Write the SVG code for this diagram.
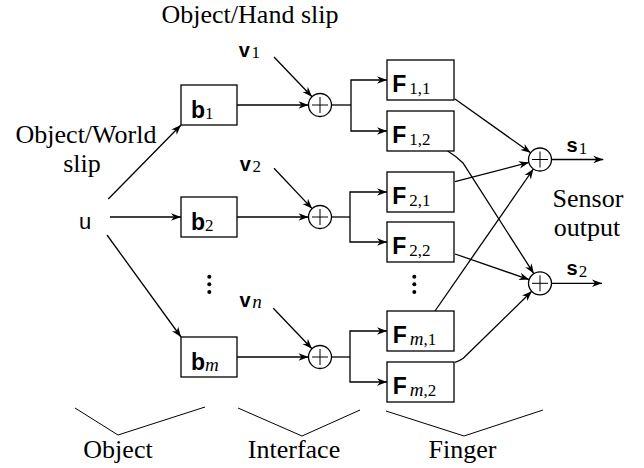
<svg xmlns="http://www.w3.org/2000/svg" width="644" height="468" viewBox="0 0 644 468">
<style>
.lbl{font-family:"Liberation Serif","Times New Roman",serif;font-size:26px;fill:#000}
.sb{font-family:"Liberation Sans",Arial,sans-serif;font-weight:bold;font-size:23px;fill:#000}
.sv{font-family:"Liberation Sans",Arial,sans-serif;font-weight:bold;font-size:20px;fill:#000}
.su{font-family:"Liberation Sans",Arial,sans-serif;font-size:22px;fill:#000}
.sub{font-family:"Liberation Serif","Times New Roman",serif;font-weight:normal;font-size:17px}
.it{font-style:italic;font-size:19px}
.box{fill:#fff;stroke:#000;stroke-width:1.3}
.sum{fill:#fff;stroke:#000;stroke-width:1.3}
.plus{stroke:#000;stroke-width:1;fill:none}
.c{fill:none;stroke:#000;stroke-width:1.3}
.ar{marker-end:url(#ah)}
.br{fill:none;stroke:#000;stroke-width:1}
</style>
<defs>
<marker id="ah" viewBox="-11 -5 12 10" refX="0" refY="0" markerWidth="12" markerHeight="10" markerUnits="userSpaceOnUse" orient="auto">
<path d="M0,0 L-10,-3.8 L-7,0 L-10,3.8 Z" fill="#000"/>
</marker>
</defs>

<g id="labels">
<text class="lbl" x="250" y="23" text-anchor="middle">Object/Hand slip</text>
<text class="lbl" x="86" y="142.5" text-anchor="middle">Object/World</text>
<text class="lbl" x="82" y="171.5" text-anchor="middle">slip</text>
<text class="lbl" x="588" y="206.5" text-anchor="middle">Sensor</text>
<text class="lbl" x="587" y="235.5" text-anchor="middle">output</text>
<text class="lbl" x="118" y="458" text-anchor="middle">Object</text>
<text class="lbl" x="294" y="458" text-anchor="middle">Interface</text>
<text class="lbl" x="462.5" y="458" text-anchor="middle">Finger</text>
</g>

<g id="braces">
<polyline class="br" points="75,408 118,435 205,407"/>
<polyline class="br" points="238,408 302,436 360,410"/>
<polyline class="br" points="386,411 464,436 543,410"/>
</g>

<g id="connectors">
<line class="c ar" x1="108.3" y1="199" x2="181" y2="125"/>
<line class="c ar" x1="110" y1="217" x2="181" y2="217"/>
<line class="c ar" x1="107" y1="235" x2="181" y2="337"/>

<line class="c ar" x1="237" y1="105" x2="308.5" y2="105"/>
<line class="c ar" x1="237" y1="217" x2="308.5" y2="217"/>
<line class="c ar" x1="237" y1="357" x2="308.5" y2="357"/>

<line class="c ar" x1="274" y1="57" x2="312" y2="96.7"/>
<line class="c ar" x1="274" y1="168.3" x2="312.1" y2="208.6"/>
<line class="c ar" x1="273.3" y1="308.3" x2="312" y2="348.7"/>

<polyline class="c" points="331.5,105 351,105"/>
<polyline class="c ar" points="351,105 351,80 387,80"/>
<polyline class="c ar" points="351,105 351,131 387,131"/>
<polyline class="c" points="331.5,217 350,217"/>
<polyline class="c ar" points="350,217 350,192 387,192"/>
<polyline class="c ar" points="350,217 350,242 387,242"/>
<polyline class="c" points="331.5,357 350,357"/>
<polyline class="c ar" points="350,357 350,331 387,331"/>
<polyline class="c ar" points="350,357 350,382 387,382"/>

<line class="c ar" x1="455" y1="99" x2="530.6" y2="152.8"/>
<line class="c ar" x1="455" y1="181.7" x2="528.9" y2="162.4"/>
<line class="c ar" x1="435" y1="311" x2="533.4" y2="169"/>

<path class="c ar" d="M447.7,151 Q456,156 463.3,163.3 L533.8,273.6"/>
<line class="c ar" x1="455" y1="254" x2="529.1" y2="279.6"/>
<path class="c ar" d="M455,362.3 Q459.5,361 463.3,358.3 L531.8,291.3"/>

<line class="c ar" x1="551.5" y1="159.5" x2="603.3" y2="159.5"/>
<line class="c ar" x1="551.5" y1="283.3" x2="602" y2="283.3"/>
</g>

<g id="u"><text class="su" x="79" y="228.5">u</text></g>

<g id="b1"><rect class="box" x="181" y="85" width="56" height="40"/><text class="sb" x="191" y="117.5">b<tspan class="sub" dy="1">1</tspan></text></g>
<g id="b2"><rect class="box" x="181" y="197" width="56" height="40"/><text class="sb" x="191" y="229.5">b<tspan class="sub" dy="1">2</tspan></text></g>
<g id="bm"><rect class="box" x="181" y="337" width="56" height="40"/><text class="sb" x="191" y="369.5">b<tspan class="sub it" dy="1">m</tspan></text></g>

<g id="vdots1"><circle cx="209.3" cy="276.7" r="2"/><circle cx="209.3" cy="284.3" r="2"/><circle cx="209.3" cy="292" r="2"/></g>
<g id="vdots2"><circle cx="414.3" cy="276.7" r="2"/><circle cx="414.3" cy="284.3" r="2"/><circle cx="414.3" cy="292" r="2"/></g>

<g id="v1"><text class="sv" x="238.8" y="56.5">v<tspan class="sub" dx="1.5" dy="1.8">1</tspan></text></g>
<g id="v2"><text class="sv" x="239.8" y="170.5">v<tspan class="sub" dx="1.5" dy="1.8">2</tspan></text></g>
<g id="vn"><text class="sv" x="239.5" y="306.7">v<tspan class="sub it" dx="1.5" dy="1">n</tspan></text></g>

<g id="sum1r"><circle class="sum" cx="320" cy="105" r="11.5"/><path class="plus" d="M312,105 H328 M320,97 V113"/></g>
<g id="sum2r"><circle class="sum" cx="320" cy="217" r="11.5"/><path class="plus" d="M312,217 H328 M320,209 V225"/></g>
<g id="sumnr"><circle class="sum" cx="320" cy="357" r="11.5"/><path class="plus" d="M312,357 H328 M320,349 V365"/></g>

<g id="F11"><rect class="box" x="387" y="60" width="67" height="40"/><text class="sb" x="392.3" y="91.5">F<tspan class="sub" dx="3" dy="2">1,1</tspan></text></g>
<g id="F12"><rect class="box" x="387" y="111" width="67" height="40"/><text class="sb" x="392.3" y="142.5">F<tspan class="sub" dx="3" dy="2">1,2</tspan></text></g>
<g id="F21"><rect class="box" x="387" y="172" width="67" height="40"/><text class="sb" x="392.3" y="203.5">F<tspan class="sub" dx="3" dy="2">2,1</tspan></text></g>
<g id="F22"><rect class="box" x="387" y="222" width="67" height="40"/><text class="sb" x="392.3" y="253.5">F<tspan class="sub" dx="3" dy="2">2,2</tspan></text></g>
<g id="Fm1"><rect class="box" x="387" y="311" width="67" height="40"/><text class="sb" x="392.8" y="342.5">F<tspan class="sub" dx="3" dy="2"><tspan class="it">m</tspan>,1</tspan></text></g>
<g id="Fm2"><rect class="box" x="387" y="362" width="67" height="40"/><text class="sb" x="392.8" y="393.5">F<tspan class="sub" dx="3" dy="2"><tspan class="it">m</tspan>,2</tspan></text></g>

<g id="s1sum"><circle class="sum" cx="540" cy="159.5" r="11.5"/><path class="plus" d="M532,159.5 H548 M540,151.5 V167.5"/></g>
<g id="s2sum"><circle class="sum" cx="540" cy="283.3" r="11.5"/><path class="plus" d="M532,283.3 H548 M540,275.3 V291.3"/></g>

<g id="s1"><text class="sv" x="566.5" y="152">s<tspan class="sub" dx="1" dy="2">1</tspan></text></g>
<g id="s2"><text class="sv" x="566.5" y="274.5">s<tspan class="sub" dx="1" dy="2.5">2</tspan></text></g>
</svg>
